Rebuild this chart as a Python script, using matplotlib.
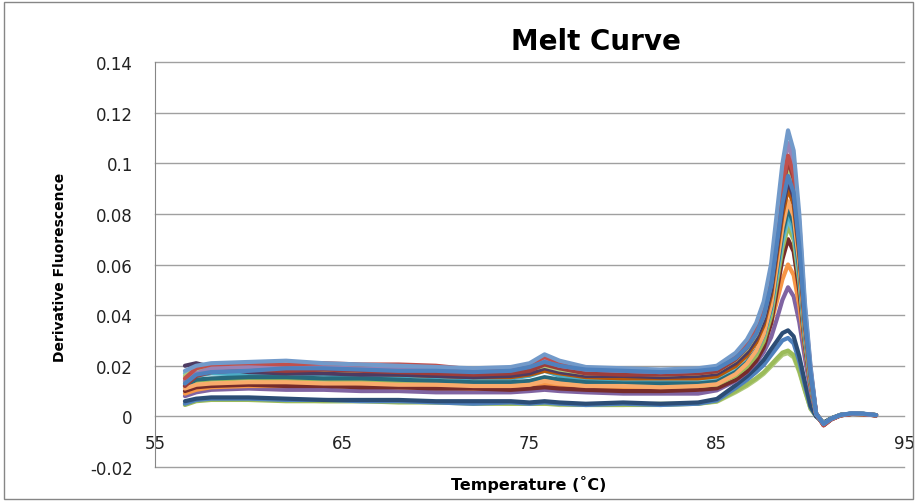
import matplotlib
matplotlib.use("Agg")
import matplotlib.pyplot as plt
from matplotlib.patches import Rectangle

# temperature points (deg C), shared by every well
temps = [56.6, 57.2, 58, 60, 62, 64, 66, 68, 70, 72, 74, 75, 75.8, 76.6, 78, 80, 82, 84,
         85, 86, 86.6, 87.1, 87.5, 87.9, 88.2, 88.5, 88.8, 89.1, 89.4, 89.7, 90.0, 90.3,
         90.7, 91.1, 91.6, 92.2, 92.8, 93.5]

# derivative fluorescence for each well
s01 = [0.018, 0.020, 0.021, 0.0215, 0.022, 0.021, 0.0205, 0.020, 0.0195, 0.019, 0.0195, 0.021, 0.0245, 0.022, 0.0195, 0.019, 0.0185, 0.019,
       0.020, 0.0251, 0.0303, 0.0369, 0.0453, 0.0604, 0.0801, 0.0998, 0.113, 0.105, 0.080, 0.045, 0.020, 0.001,
       -0.003, -0.001, 0.0005, 0.0012, 0.001, 0.0005]
s02 = [0.015, 0.019, 0.0205, 0.021, 0.0205, 0.021, 0.0205, 0.0205, 0.020, 0.0185, 0.019, 0.0205, 0.0235, 0.021, 0.019, 0.0185, 0.018, 0.018,
       0.0189, 0.0235, 0.0282, 0.0342, 0.0418, 0.0554, 0.0733, 0.0911, 0.103, 0.0958, 0.0731, 0.0412, 0.0185, 0.001,
       -0.0035, -0.0012, 0.0004, 0.001, 0.0009, 0.0004]
s03 = [0.014, 0.017, 0.019, 0.0195, 0.020, 0.0195, 0.019, 0.019, 0.0185, 0.018, 0.0185, 0.020, 0.022, 0.020, 0.0185, 0.018, 0.0175, 0.018,
       0.0194, 0.0243, 0.0292, 0.0355, 0.0436, 0.0579, 0.0767, 0.0955, 0.108, 0.1004, 0.0767, 0.0432, 0.0194, 0.001,
       -0.003, -0.001, 0.0005, 0.0011, 0.001, 0.0005]
s04 = [0.012, 0.016, 0.0175, 0.0185, 0.018, 0.0185, 0.018, 0.0175, 0.017, 0.0165, 0.017, 0.018, 0.0205, 0.019, 0.017, 0.0165, 0.0165, 0.017,
       0.0178, 0.0225, 0.0271, 0.033, 0.0405, 0.054, 0.0716, 0.0892, 0.101, 0.0939, 0.0717, 0.0404, 0.0182, 0.001,
       -0.0035, -0.0012, 0.0004, 0.001, 0.0009, 0.0004]
s05 = [0.016, 0.0185, 0.019, 0.0195, 0.019, 0.0185, 0.018, 0.018, 0.0175, 0.017, 0.0175, 0.0185, 0.020, 0.0185, 0.017, 0.017, 0.0165, 0.017,
       0.0178, 0.0223, 0.0267, 0.0324, 0.0397, 0.0526, 0.0697, 0.0867, 0.098, 0.0911, 0.0696, 0.0392, 0.0176, 0.001,
       -0.003, -0.001, 0.0005, 0.0011, 0.001, 0.0005]
s06 = [0.013, 0.0165, 0.0175, 0.018, 0.019, 0.019, 0.0185, 0.018, 0.018, 0.0175, 0.018, 0.0195, 0.0215, 0.020, 0.0185, 0.018, 0.0175, 0.018,
       0.0188, 0.023, 0.0272, 0.0326, 0.0396, 0.0519, 0.068, 0.0842, 0.095, 0.0884, 0.0675, 0.038, 0.0171, 0.001,
       -0.003, -0.0009, 0.0006, 0.0012, 0.0011, 0.0005]
s07 = [0.020, 0.021, 0.0195, 0.0175, 0.017, 0.017, 0.0165, 0.0165, 0.016, 0.0155, 0.016, 0.017, 0.019, 0.0175, 0.016, 0.016, 0.0155, 0.016,
       0.0168, 0.021, 0.0252, 0.0306, 0.0376, 0.0499, 0.066, 0.0822, 0.093, 0.0865, 0.066, 0.0372, 0.0167, 0.001,
       -0.003, -0.001, 0.0005, 0.001, 0.001, 0.0005]
s08 = [0.014, 0.017, 0.0185, 0.019, 0.018, 0.0175, 0.017, 0.0165, 0.016, 0.0155, 0.0155, 0.0165, 0.018, 0.017, 0.0155, 0.015, 0.015, 0.015,
       0.0158, 0.0199, 0.024, 0.0293, 0.036, 0.048, 0.0638, 0.0795, 0.090, 0.0837, 0.0639, 0.036, 0.0162, 0.001,
       -0.0032, -0.0011, 0.0004, 0.001, 0.0009, 0.0004]
s09 = [0.011, 0.0125, 0.013, 0.0135, 0.0135, 0.013, 0.013, 0.0125, 0.0125, 0.012, 0.012, 0.0125, 0.014, 0.013, 0.012, 0.012, 0.0115, 0.012,
       0.0127, 0.0167, 0.0208, 0.0259, 0.0324, 0.0441, 0.0595, 0.0748, 0.085, 0.0791, 0.0604, 0.034, 0.0153, 0.001,
       -0.003, -0.001, 0.0005, 0.001, 0.0009, 0.0005]
s10 = [0.012, 0.0145, 0.015, 0.0155, 0.0155, 0.015, 0.015, 0.0145, 0.014, 0.0135, 0.0135, 0.014, 0.0155, 0.0145, 0.0135, 0.013, 0.013, 0.013,
       0.0137, 0.0175, 0.0213, 0.0261, 0.0323, 0.0434, 0.0579, 0.0723, 0.082, 0.0763, 0.0582, 0.0328, 0.0148, 0.001,
       -0.003, -0.001, 0.0005, 0.0011, 0.001, 0.0005]
s11 = [0.013, 0.016, 0.017, 0.0165, 0.017, 0.0165, 0.016, 0.016, 0.0155, 0.015, 0.015, 0.016, 0.018, 0.016, 0.0145, 0.0135, 0.013, 0.013,
       0.0137, 0.0174, 0.021, 0.0257, 0.0318, 0.0425, 0.0566, 0.0706, 0.080, 0.0744, 0.0568, 0.032, 0.0144, 0.001,
       -0.003, -0.001, 0.0005, 0.0011, 0.001, 0.0005]
s12 = [0.017, 0.0185, 0.019, 0.0185, 0.018, 0.0175, 0.017, 0.017, 0.0165, 0.0155, 0.0155, 0.0165, 0.019, 0.0175, 0.0155, 0.015, 0.0145, 0.014,
       0.0146, 0.0182, 0.0217, 0.0262, 0.0319, 0.0422, 0.0556, 0.069, 0.078, 0.0725, 0.0554, 0.0312, 0.014, 0.001,
       -0.003, -0.001, 0.0005, 0.001, 0.001, 0.0005]
s13 = [0.012, 0.014, 0.0145, 0.015, 0.0145, 0.0145, 0.014, 0.014, 0.0135, 0.013, 0.013, 0.0135, 0.0145, 0.014, 0.013, 0.0125, 0.012, 0.012,
       0.0126, 0.0161, 0.0196, 0.024, 0.0296, 0.0397, 0.053, 0.0662, 0.075, 0.0698, 0.0533, 0.030, 0.0135, 0.001,
       -0.003, -0.001, 0.0005, 0.001, 0.0009, 0.0005]
s14 = [0.010, 0.0115, 0.012, 0.0125, 0.012, 0.012, 0.0115, 0.0115, 0.011, 0.011, 0.0105, 0.011, 0.0115, 0.011, 0.0105, 0.010, 0.010, 0.0105,
       0.0111, 0.0144, 0.0177, 0.0219, 0.0273, 0.0369, 0.0495, 0.0621, 0.070, 0.0651, 0.0497, 0.028, 0.0126, 0.001,
       -0.0035, -0.0012, 0.0004, 0.001, 0.0009, 0.0004]
s15 = [0.009, 0.0105, 0.0115, 0.012, 0.012, 0.0125, 0.012, 0.0115, 0.0115, 0.011, 0.011, 0.0115, 0.0125, 0.012, 0.011, 0.011, 0.0105, 0.011,
       0.0125, 0.0169, 0.0208, 0.0252, 0.0301, 0.037, 0.0453, 0.0541, 0.060, 0.0558, 0.0438, 0.027, 0.012, 0.0012,
       -0.003, -0.001, 0.0005, 0.001, 0.0009, 0.0005]
s16 = [0.008, 0.0095, 0.0105, 0.011, 0.0105, 0.0105, 0.010, 0.010, 0.0095, 0.0095, 0.0095, 0.010, 0.0105, 0.010, 0.0095, 0.009, 0.009, 0.009,
       0.0103, 0.014, 0.0174, 0.0212, 0.0254, 0.0313, 0.0384, 0.046, 0.051, 0.0474, 0.0372, 0.023, 0.0102, 0.001,
       -0.003, -0.001, 0.0005, 0.001, 0.0009, 0.0005]
s17 = [0.006, 0.007, 0.0075, 0.0075, 0.007, 0.0065, 0.0065, 0.0065, 0.006, 0.006, 0.006, 0.0055, 0.006, 0.0055, 0.005, 0.0055, 0.005, 0.0055,
       0.0069, 0.0123, 0.0158, 0.0192, 0.0223, 0.0266, 0.0297, 0.0329, 0.034, 0.0316, 0.0238, 0.0136, 0.0041, 0.0,
       -0.0025, -0.0008, 0.0006, 0.0011, 0.0009, 0.0005]
s18 = [0.005, 0.0065, 0.007, 0.007, 0.0065, 0.0065, 0.006, 0.006, 0.0055, 0.005, 0.0055, 0.005, 0.0055, 0.005, 0.0045, 0.005, 0.0045, 0.005,
       0.0063, 0.0112, 0.0144, 0.0175, 0.0203, 0.0242, 0.0271, 0.030, 0.031, 0.0288, 0.0217, 0.0124, 0.0037, 0.0,
       -0.0025, -0.0008, 0.0006, 0.0011, 0.0009, 0.0005]
s19 = [0.0045, 0.006, 0.0065, 0.0065, 0.006, 0.006, 0.006, 0.0055, 0.0055, 0.005, 0.005, 0.005, 0.005, 0.005, 0.0045, 0.0045, 0.0045, 0.005,
       0.006, 0.010, 0.0126, 0.0151, 0.0174, 0.0205, 0.0229, 0.0252, 0.026, 0.0242, 0.0182, 0.0104, 0.0031, 0.0,
       -0.0025, -0.0008, 0.0006, 0.001, 0.0009, 0.0005]
s20 = [0.005, 0.0065, 0.007, 0.0065, 0.0065, 0.006, 0.006, 0.006, 0.0055, 0.0055, 0.005, 0.005, 0.005, 0.0045, 0.0045, 0.0045, 0.005, 0.005,
       0.0058, 0.0095, 0.012, 0.0145, 0.0168, 0.0198, 0.0221, 0.0243, 0.025, 0.0233, 0.0175, 0.010, 0.003, 0.0,
       -0.0025, -0.0008, 0.0006, 0.001, 0.0009, 0.0005]

y_ticks = [-0.02, 0, 0.02, 0.04, 0.06, 0.08, 0.1, 0.12, 0.14]
y_tick_labels = ["-0.02", "0", "0.02", "0.04", "0.06", "0.08", "0.1", "0.12", "0.14"]
x_ticks = [55, 65, 75, 85, 95]


def main():
    fig = plt.figure(figsize=(9.17, 5.02), dpi=100)
    ax = fig.add_axes([0.169, 0.0677, 0.817, 0.8068])

    # excel 2010 palette, drawn bottom to top
    wells = [
        (s20, "#AFC97A"), (s19, "#9BBB59"), (s18, "#4F81BD"), (s17, "#2C4D75"),
        (s16, "#8064A2"), (s15, "#F79646"), (s14, "#772C2A"), (s13, "#9BBB59"),
        (s12, "#6FBDD1"), (s11, "#4BACC6"), (s10, "#276A7C"), (s09, "#F9AB6B"),
        (s08, "#B65708"), (s07, "#4D3B62"), (s05, "#AFC97A"), (s04, "#9D3D3A"),
        (s03, "#9983B5"), (s02, "#C0504D"), (s01, "#729ACA"), (s06, "#4F81BD"),
    ]
    for vals, col in wells:
        ax.plot(temps, vals, color=col, lw=3.0, solid_joinstyle="round",
                solid_capstyle="round")

    ax.set_xlim(55, 95)
    ax.set_ylim(-0.02, 0.14)
    ax.set_yticks(y_ticks)
    ax.set_yticklabels(y_tick_labels)
    ax.set_xticks(x_ticks)
    ax.set_axisbelow(True)
    ax.grid(axis="y", color="#a0a0a0", lw=1)
    ax.grid(axis="x", visible=False)
    for gl in ax.get_ygridlines():
        gl.set_clip_on(False)

    # category axis crosses at zero, like excel does
    ax.spines["bottom"].set_position(("data", 0))
    ax.spines["bottom"].set_color("none")
    ax.spines["top"].set_visible(False)
    ax.spines["right"].set_visible(False)
    ax.spines["left"].set_color("#868686")
    ax.tick_params(axis="both", length=0, labelsize=12, colors="#222222")
    ax.tick_params(axis="y", pad=16)
    ax.tick_params(axis="x", pad=13)

    fig.text(0.65, 0.916, "Melt Curve", ha="center", va="center",
             fontsize=20, fontweight="bold")
    fig.text(0.576, 0.034, "Temperature (\u02daC)", ha="center", va="center",
             fontsize=11.5, fontweight="bold")
    fig.text(0.065, 0.468, "Derivative Fluorescence", ha="center", va="center",
             rotation=90, fontsize=10, fontweight="bold")

    # chart area border
    fig.patches.append(Rectangle((0.004, 0.004), 0.992, 0.99, transform=fig.transFigure,
                                 fill=False, edgecolor="#868686", lw=1))

    fig.savefig("out.png", dpi=100)
    plt.close(fig)


if __name__ == "__main__":
    main()
